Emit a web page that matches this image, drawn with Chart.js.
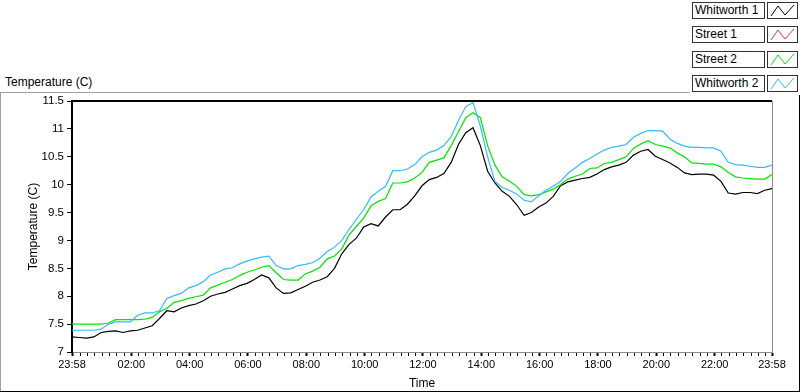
<!DOCTYPE html>
<html>
<head>
<meta charset="utf-8">
<script src="https://cdn.jsdelivr.net/npm/chart.js@4.4.1/dist/chart.umd.min.js"></script>
<style>
  html, body { margin: 0; padding: 0; background: #fff; }
  body { width: 800px; height: 392px; position: relative; overflow: hidden; font-family: "Liberation Sans", Arial, sans-serif; }
  #chart { position: absolute; left: 0; top: 0; }
  .line { position: absolute; }
  .hdr { position: absolute; left: 5px; top: 75px; font-size: 12px; color: #000; }
  .leg-text { position: absolute; left: 692px; width: 69px; height: 15px; border: 1px solid #333; background: #fff;
              font-size: 12px; line-height: 15px; padding-left: 2px; box-sizing: content-box; white-space: nowrap; }
  .leg-icon { position: absolute; left: 767px; width: 29px; height: 15px; border: 1px solid #333; background: #fff; }
</style>
</head>
<body>
<div class="line" style="left:0;top:92px;width:690px;height:1px;background:#a0a0a0"></div>
<div class="line" style="left:0;top:92px;width:1px;height:300px;background:#a0a0a0"></div>
<div class="line" style="left:0;top:391px;width:800px;height:1px;background:#000"></div>
<div class="line" style="left:799px;top:95px;width:1px;height:297px;background:#000"></div>
<div class="hdr">Temperature (C)</div>
<div id="legend"></div>
<canvas id="chart" width="800" height="392"></canvas>
<script>
// ─── Data (minutes since 23:58, sampled every 15 min) ───
const minutes = [
  0, 15, 30, 45, 60, 75, 90, 105, 120, 135, 150, 165, 180, 195, 210, 225,
  240, 255, 270, 285, 300, 315, 330, 345, 360, 375, 390, 405, 420, 435, 450, 465,
  480, 495, 510, 525, 540, 555, 570, 585, 600, 615, 630, 645, 660, 675, 690, 705,
  720, 735, 750, 765, 780, 795, 810, 825, 840, 855, 870, 885, 900, 915, 930, 945,
  960, 975, 990, 1005, 1020, 1035, 1050, 1065, 1080, 1095, 1110, 1125, 1140, 1155, 1170, 1185,
  1200, 1215, 1230, 1245, 1260, 1275, 1290, 1305, 1320, 1335, 1350, 1365, 1380, 1395, 1410, 1425,
  1440
];

const whitworth1 = [
  7.27, 7.26, 7.25, 7.27, 7.35, 7.37, 7.38, 7.35, 7.38, 7.39, 7.43, 7.47, 7.60, 7.74, 7.72, 7.79,
  7.83, 7.86, 7.92, 8.00, 8.04, 8.07, 8.13, 8.19, 8.23, 8.30, 8.38, 8.33, 8.15, 8.05, 8.06, 8.12,
  8.18, 8.25, 8.29, 8.35, 8.50, 8.76, 8.93, 9.04, 9.24, 9.30, 9.26, 9.42, 9.55, 9.55, 9.65, 9.80,
  9.98, 10.09, 10.13, 10.20, 10.40, 10.72, 10.93, 11.02, 10.70, 10.24, 10.03, 9.88, 9.79, 9.64, 9.45, 9.50,
  9.60, 9.67, 9.79, 9.98, 10.05, 10.08, 10.11, 10.13, 10.19, 10.27, 10.32, 10.35, 10.40, 10.53, 10.60, 10.63,
  10.51, 10.45, 10.39, 10.31, 10.21, 10.18, 10.19, 10.19, 10.17, 10.06, 9.85, 9.83, 9.86, 9.86, 9.84, 9.90,
  9.93
];

const street1 = [];

const street2 = [
  7.50, 7.50, 7.50, 7.50, 7.50, 7.52, 7.58, 7.58, 7.58, 7.58, 7.59, 7.62, 7.72, 7.78, 7.89, 7.92,
  7.96, 7.99, 8.02, 8.15, 8.20, 8.25, 8.30, 8.37, 8.43, 8.47, 8.52, 8.55, 8.42, 8.30, 8.29, 8.29,
  8.40, 8.45, 8.52, 8.67, 8.72, 8.85, 9.10, 9.25, 9.40, 9.62, 9.70, 9.75, 10.03, 10.03, 10.05, 10.12,
  10.22, 10.40, 10.44, 10.48, 10.70, 10.95, 11.20, 11.29, 11.20, 10.70, 10.35, 10.14, 10.06, 9.97, 9.82, 9.80,
  9.82, 9.87, 9.92, 10.00, 10.10, 10.15, 10.19, 10.29, 10.30, 10.38, 10.40, 10.45, 10.50, 10.65, 10.73, 10.79,
  10.72, 10.69, 10.66, 10.57, 10.50, 10.39, 10.38, 10.37, 10.37, 10.32, 10.22, 10.14, 10.12, 10.11, 10.10, 10.10,
  10.18
];

const whitworth2 = [
  7.39, 7.39, 7.39, 7.39, 7.41, 7.50, 7.54, 7.54, 7.54, 7.66, 7.70, 7.70, 7.74, 7.96, 8.01, 8.05,
  8.15, 8.19, 8.26, 8.38, 8.43, 8.49, 8.51, 8.58, 8.63, 8.67, 8.70, 8.72, 8.55, 8.49, 8.49, 8.55,
  8.57, 8.60, 8.68, 8.80, 8.88, 9.00, 9.20, 9.38, 9.55, 9.78, 9.88, 9.97, 10.25, 10.25, 10.28, 10.36,
  10.50, 10.58, 10.62, 10.70, 10.86, 11.15, 11.40, 11.47, 11.05, 10.50, 10.06, 9.95, 9.90, 9.83, 9.72, 9.69,
  9.80, 9.90, 9.97, 10.06, 10.20, 10.30, 10.40, 10.47, 10.55, 10.62, 10.67, 10.69, 10.72, 10.85, 10.92, 10.97,
  10.97, 10.96, 10.82, 10.74, 10.69, 10.67, 10.67, 10.66, 10.66, 10.60, 10.40, 10.36, 10.35, 10.33, 10.31, 10.31,
  10.35
];

const seriesNames = ['Whitworth 1', 'Street 1', 'Street 2', 'Whitworth 2'];
const seriesColors = ['#000000', '#ff3030', '#00e600', '#33bbff'];

const xTickLabels = ['23:58', '02:00', '04:00', '06:00', '08:00', '10:00', '12:00',
  '14:00', '16:00', '18:00', '20:00', '22:00', '23:58'];
const yTickLabels = ['7', '7.5', '8', '8.5', '9', '9.5', '10', '10.5', '11', '11.5'];

// ─── Axis helpers ───
const START_MIN = 23 * 60 + 58;
const SPAN = 1440;
function labelToOffset(lbl, i) {
  if (i === xTickLabels.length - 1) return SPAN;
  const [h, m] = lbl.split(':').map(Number);
  return ((h * 60 + m) - START_MIN + SPAN) % SPAN;
}
const majorOffsets = xTickLabels.map(labelToOffset);
const yTickValues = yTickLabels.map(Number);

// minor ticks every 15 min on the quarter hour
const xTickValues = [0];
for (let t = 17; t < SPAN; t += 15) xTickValues.push(t);
xTickValues.push(SPAN);

// ─── Legend (LabVIEW style boxes) ───
const legend = document.getElementById('legend');
const rowTops = [2, 26, 51, 75];
seriesNames.forEach((name, i) => {
  const t = document.createElement('div');
  t.className = 'leg-text';
  t.style.top = rowTops[i] + 'px';
  t.textContent = name;
  legend.appendChild(t);
  const ic = document.createElement('div');
  ic.className = 'leg-icon';
  ic.style.top = rowTops[i] + 'px';
  ic.innerHTML = '<svg width="29" height="15"><polyline points="3,13 10,3 17,12 26,2" fill="none" stroke="' +
    seriesColors[i] + '" stroke-width="1"/></svg>';
  legend.appendChild(ic);
});

// ─── Plot frame: top black, right grey ───
const frameLines = {
  id: 'frameLines',
  afterDraw(chart) {
    const { ctx, chartArea: a } = chart;
    ctx.save();
    ctx.strokeStyle = '#000';
    ctx.lineWidth = 2;
    ctx.beginPath();
    ctx.moveTo(a.left - 1, a.top);
    ctx.lineTo(a.right, a.top);
    ctx.stroke();
    ctx.strokeStyle = '#8c8c8c';
    ctx.lineWidth = 1;
    ctx.beginPath();
    ctx.moveTo(a.right + 0.5, a.top);
    ctx.lineTo(a.right + 0.5, a.bottom);
    ctx.stroke();
    ctx.restore();
  }
};

const seriesData = [whitworth1, street1, street2, whitworth2];
const datasets = seriesNames.map((name, i) => ({
  label: name,
  data: seriesData[i].map((v, k) => ({ x: minutes[k], y: v })),
  borderColor: seriesColors[i],
  borderWidth: 1.2,
  pointRadius: 0,
  tension: 0,
  fill: false,
  order: seriesNames.length - i,
}));

const tickFont = { family: '"Liberation Sans", Arial, sans-serif', size: 11 };

new Chart(document.getElementById('chart'), {
  type: 'line',
  data: { datasets },
  plugins: [frameLines],
  options: {
    responsive: false,
    animation: false,
    layout: { padding: { top: 101, right: 28, left: 0, bottom: 0 } },
    plugins: { legend: { display: false }, tooltip: { enabled: false } },
    scales: {
      x: {
        type: 'linear',
        min: 0,
        max: SPAN,
        afterFit: (s) => { s.height = 40; },
        afterBuildTicks: (s) => { s.ticks = xTickValues.map((v) => ({ value: v })); },
        ticks: {
          autoSkip: false,
          maxRotation: 0,
          padding: 2,
          color: '#000',
          font: tickFont,
          callback: (v) => {
            const idx = majorOffsets.indexOf(v);
            return idx >= 0 ? xTickLabels[idx] : '';
          },
        },
        grid: {
          drawOnChartArea: false,
          drawTicks: true,
          tickLength: 4,
          tickColor: '#000',
          tickWidth: (c) => (majorOffsets.includes(c.tick && c.tick.value) ? 2 : 1),
        },
        border: { display: true, color: '#8c8c8c', width: 1 },
        title: {
          display: true,
          text: 'Time',
          color: '#000',
          font: { family: '"Liberation Sans", Arial, sans-serif', size: 12 },
          padding: { top: 0, bottom: 1 },
        },
      },
      y: {
        min: 7,
        max: 11.5,
        afterFit: (s) => { s.width = 72; },
        afterBuildTicks: (s) => { s.ticks = yTickValues.map((v) => ({ value: v })); },
        ticks: {
          padding: 3,
          color: '#000',
          font: { family: '"Liberation Sans", Arial, sans-serif', size: 11.5 },
          callback: (v) => yTickLabels[yTickValues.indexOf(v)],
        },
        grid: {
          drawOnChartArea: false,
          drawTicks: true,
          tickLength: 5,
          tickColor: '#000',
        },
        border: { display: true, color: '#000', width: 2 },
        title: {
          display: true,
          text: 'Temperature (C)',
          color: '#000',
          font: { family: '"Liberation Sans", Arial, sans-serif', size: 12 },
          padding: { top: 26, bottom: 0 },
        },
      },
    },
  },
});
</script>
</body>
</html>
